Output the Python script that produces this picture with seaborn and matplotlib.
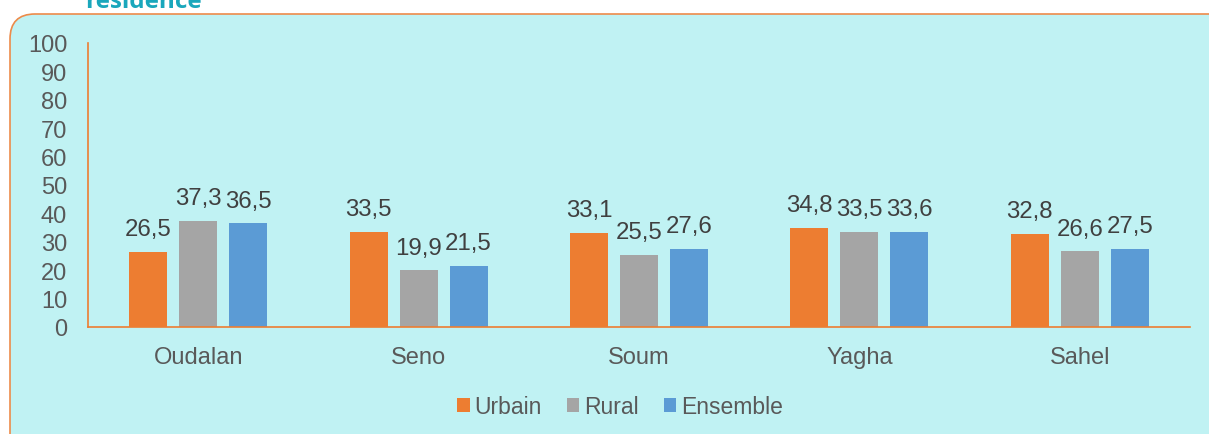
import numpy as np
import pandas as pd
import seaborn as sns
import matplotlib.pyplot as plt
from matplotlib.patches import FancyBboxPatch
from matplotlib.transforms import IdentityTransform

# data
regions = ['Oudalan', 'Seno', 'Soum', 'Yagha', 'Sahel']
series = ['Urbain', 'Rural', 'Ensemble']
urbain = [26.5, 33.5, 33.1, 34.8, 32.8]
rural = [37.3, 19.9, 25.5, 33.5, 26.6]
ensemble = [36.5, 21.5, 27.6, 33.6, 27.5]
colors = ['#ED7D31', '#A5A5A5', '#5B9BD5']

df = pd.DataFrame({
    'region': regions * 3,
    'serie': ['Urbain'] * 5 + ['Rural'] * 5 + ['Ensemble'] * 5,
    'valeur': urbain + rural + ensemble,
})

sns.set_style('white')
plt.rcParams['font.family'] = ['Liberation Sans', 'DejaVu Sans']

fig = plt.figure(figsize=(12.09, 4.35), dpi=100)
fig.patch.set_facecolor('white')

# rounded cyan frame, behind the axes
box = FancyBboxPatch((10, -40), 1240, 460, boxstyle='round,pad=0,rounding_size=25',
                     transform=IdentityTransform(), facecolor='#C0F2F3',
                     edgecolor='#ED8B4A', linewidth=1.2, zorder=-5)
fig.patches.append(box)

# title is cut off by the top edge, as in the original
fig.text(85 / 1209, 1 - 8.5 / 435, 'residence', color='#1AA7BC', fontsize=17.5,
         fontweight='bold', family=['Open Sans', 'DejaVu Sans'], va='baseline')

ax = fig.add_axes([88 / 1209, 1 - 328 / 435, (1190 - 88) / 1209, (328 - 44) / 435])
ax.patch.set_alpha(0)

sns.barplot(data=df, x='region', y='valeur', hue='serie', order=regions,
            hue_order=series, palette=colors, width=0.68, gap=0.24,
            saturation=1, linewidth=0, ax=ax, legend=True)

for cont in ax.containers:
    labs = [('%.1f' % b.get_height()).replace('.', ',') for b in cont]
    ax.bar_label(cont, labels=labs, padding=8.5, fontsize=17.3, color='#404040')

ax.set_ylim(0, 100)
ax.set_yticks(range(0, 101, 10))
ax.set_xlabel('')
ax.set_ylabel('')
ax.tick_params(axis='y', length=0, pad=15, labelsize=17, labelcolor='#595959')
ax.tick_params(axis='x', length=0, pad=14, labelsize=17, labelcolor='#595959')
for s in ['top', 'right']:
    ax.spines[s].set_visible(False)
for s in ['left', 'bottom']:
    ax.spines[s].set_color('#ED7D31')
    ax.spines[s].set_linewidth(1.2)

handles, labels = ax.get_legend_handles_labels()
ax.get_legend().remove()
for h in handles:
    h.set_edgecolor('none')
fig.legend(handles, labels, loc='center', bbox_to_anchor=(620 / 1209, 1 - 408 / 435),
           ncol=3, frameon=False, fontsize=16.5, handlelength=0.55, handleheight=0.55,
           handletextpad=0.2, columnspacing=1.1, labelcolor='#595959')

fig.savefig('out.png', dpi=100)
